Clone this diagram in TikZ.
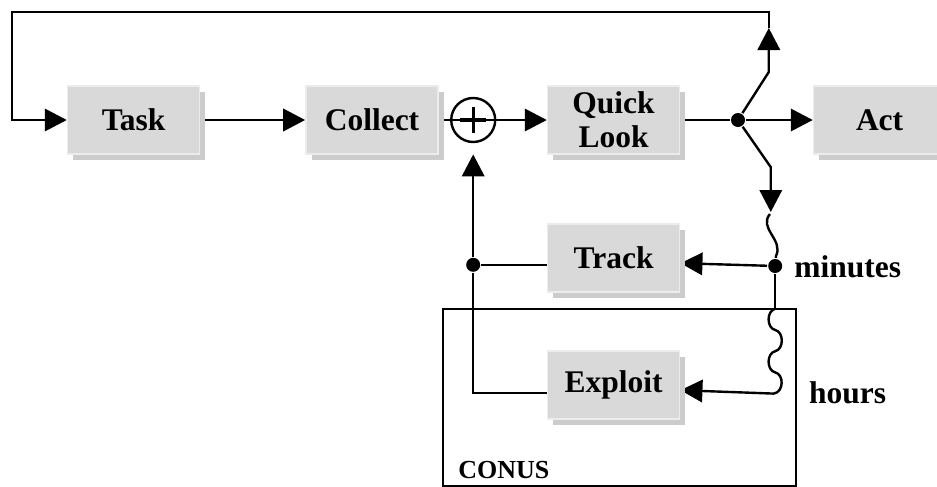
\documentclass[tikz,border=0pt]{standalone}
\usepackage{fontspec}
\setmainfont{Liberation Serif}
\usetikzlibrary{arrows.meta,shadows,backgrounds}
\definecolor{boxgray}{RGB}{217,217,217}
\definecolor{boxedge}{RGB}{236,236,236}
\definecolor{shadowgray}{RGB}{204,204,204}
\tikzset{
  block/.style = {
    rectangle, fill=boxgray, draw=boxedge, line width=1.2pt,
    minimum width=3.3cm, minimum height=1.7cm, inner sep=2pt,
    align=center, font=\fontsize{22.4}{24.5}\selectfont\bfseries,
    drop shadow={shadow xshift=0.14cm, shadow yshift=-0.16cm,
      fill=shadowgray, opacity=1}
  },
  sumnode/.style = {circle, draw, line width=1.7pt, minimum size=1.1cm, inner sep=0pt},
  dot/.style = {circle, fill, inner sep=0pt, minimum size=0.35cm},
  timetext/.style = {inner sep=0pt, font=\fontsize{22.4}{24.5}\selectfont\bfseries},
  conustext/.style = {inner sep=0pt, font=\fontsize{18.5}{20}\selectfont\bfseries},
  wire/.style = {line width=1.7pt}
}
\tikzset{>={Triangle[length=0.55cm,width=0.56cm]}}

\begin{document}
\begin{tikzpicture}[line width=1.7pt]
  \useasboundingbox (0,0) rectangle (23.425,-12.175);
  %
  \node[block] (task) at (3.34,-3) {Task};
  \node[block] (collect) at (9.3,-3) {Collect};
  \node[sumnode] (sum) at (11.83,-3) {};
  \node[block] (quick) at (15.34,-3) {Quick\\Look};
  \node[block] (act) at (21.99,-3) {Act};
  \node[block] (track) at (15.34,-6.45) {Track};
  \node[block] (exploit) at (15.34,-9.625) {Exploit};
  %
  \node[dot] (jn) at (18.45,-3) {};
  \node[dot] (mdot) at (19.38,-6.65) {};
  \node[dot] (ldot) at (11.83,-6.62) {};
  %
  \coordinate (tl) at (0.3,-0.3);
  \coordinate (tr) at (19.22,-0.3);
  \coordinate (utip) at (19.22,-0.7);
  \coordinate (ucorner) at (19.22,-1.8);
  \coordinate (dcorner) at (19.27,-4.18);
  \coordinate (dtip) at (19.27,-5.3);
  \coordinate (wtop) at (19.38,-7.72);
  \coordinate (wbot) at (19.35,-9.84);
  \coordinate (lcorner) at (11.83,-9.82);
  %
  \draw[line width=2.4pt] ([xshift=-0.33cm]sum.center) -- ([xshift=0.33cm]sum.center)
    ([yshift=-0.33cm]sum.center) -- ([yshift=0.33cm]sum.center);
  %
  \node[timetext, anchor=base west] (minutes) at (19.83,-6.93) {minutes};
  \node[timetext, anchor=base west] (hours) at (20.2,-10.08) {hours};
  \node[conustext, anchor=base west] (conus) at (11.43,-11.95) {CONUS};
  %
  \begin{scope}[on background layer={wire}]
    \draw (11.08,-7.72) rectangle (19.9,-12.15);
    %
    \draw[->] (task) -- (collect);
    \draw[->] (collect) -- (sum.center) -- (quick);
    \draw (quick) -- (jn);
    \draw[->] (jn) -- (act);
    %
    \draw[->] (jn) -- (ucorner) -- (utip);
    \draw[->] (utip) -- (tr) -- (tl) |- (task);
    %
    \draw[->] (jn) -- (dcorner) -- (dtip);
    \draw (19.25,-5.35) .. controls (18.95,-5.7) and (19.6,-6.0) .. (19.4,-6.4) -- (mdot);
    \draw[->] (mdot) -- ([yshift=-0.13cm]track.east);
    %
    \draw (mdot) -- (wtop);
    \draw (wtop) .. controls (19.16,-7.77) and (19.16,-8.2) .. (19.38,-8.25)
      .. controls (19.6,-8.3) and (19.6,-8.73) .. (19.38,-8.78)
      .. controls (19.16,-8.83) and (19.16,-9.26) .. (19.38,-9.31)
      .. controls (19.6,-9.36) and (19.6,-9.79) .. (wbot);
    \draw[->] (wbot) -- ([yshift=-0.13cm]exploit.east);
    %
    \draw (track.west |- ldot) -- (ldot);
    \draw[->] (ldot) -- ([yshift=-0.28cm]sum.south);
    \draw (ldot) -- (lcorner) -- (exploit.west |- lcorner);
  \end{scope}
\end{tikzpicture}
\end{document}
